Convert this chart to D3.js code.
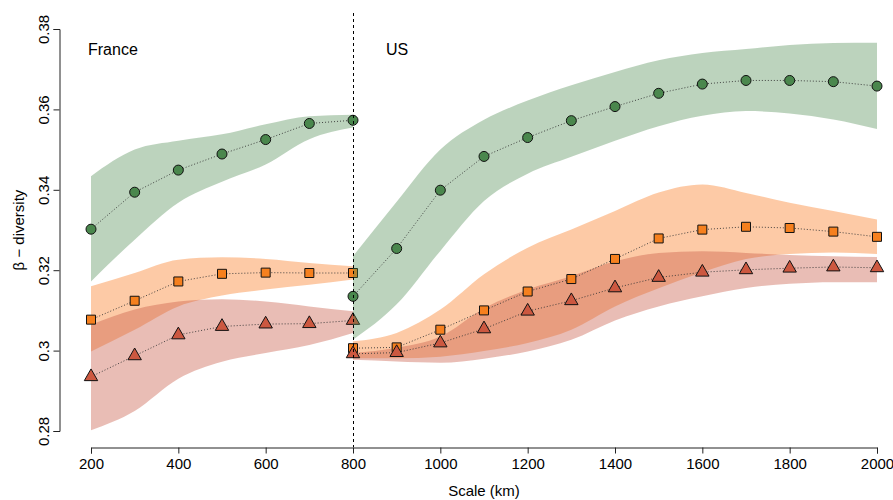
<!DOCTYPE html>
<html>
<head>
<meta charset="utf-8">
<script src="https://cdn.jsdelivr.net/npm/d3@7"></script>
<style>
  body { margin: 0; background: #fff; }
  svg text { font-family: "Liberation Sans", Arial, Helvetica, sans-serif; fill: #000; }
</style>
</head>
<body>
<div id="chart"></div>
<script>
// scales (km)
var frScale = [200, 300, 400, 500, 600, 700, 800];
var usScale = [800, 900, 1000, 1100, 1200, 1300, 1400, 1500, 1600, 1700, 1800, 1900, 2000];

// France: point estimates and band limits
var frGreen  = [0.3302, 0.3394, 0.3449, 0.3489, 0.3525, 0.3565, 0.3573];
var frOrange = [0.3077, 0.3124, 0.3172, 0.3191, 0.3194, 0.3193, 0.3193];
var frRed    = [0.2935, 0.2987, 0.3039, 0.3060, 0.3066, 0.3067, 0.3075];
var frGreenLo  = [0.3172, 0.3276, 0.3368, 0.3420, 0.3463, 0.3526, 0.3555];
var frGreenHi  = [0.3434, 0.3500, 0.3522, 0.3538, 0.3563, 0.3583, 0.3587];
var frOrangeLo = [0.2998, 0.3052, 0.3110, 0.3137, 0.3152, 0.3164, 0.3177];
var frOrangeHi = [0.3160, 0.3193, 0.3226, 0.3232, 0.3228, 0.3218, 0.3210];
var frRedLo    = [0.2802, 0.2850, 0.2930, 0.2972, 0.2994, 0.3014, 0.3044];
var frRedHi    = [0.3064, 0.3102, 0.3122, 0.3128, 0.3122, 0.3110, 0.3098];

// US
var usGreen  = [0.3135, 0.3254, 0.3399, 0.3483, 0.3530, 0.3572, 0.3607, 0.3640, 0.3663, 0.3672, 0.3672, 0.3669, 0.3658];
var usOrange = [0.3006, 0.3008, 0.3052, 0.3100, 0.3147, 0.3178, 0.3228, 0.3279, 0.3301, 0.3308, 0.3305, 0.3296, 0.3283];
var usRed    = [0.2992, 0.2995, 0.3019, 0.3054, 0.3098, 0.3124, 0.3156, 0.3182, 0.3195, 0.3201, 0.3205, 0.3208, 0.3206];
var usGreenLo  = [0.3027, 0.3115, 0.3248, 0.3372, 0.3440, 0.3482, 0.3522, 0.3558, 0.3584, 0.3596, 0.3590, 0.3575, 0.3551];
var usGreenHi  = [0.3235, 0.3370, 0.3500, 0.3574, 0.3622, 0.3660, 0.3693, 0.3722, 0.3740, 0.3750, 0.3760, 0.3765, 0.3766];
var usOrangeLo = [0.2981, 0.2981, 0.2985, 0.2999, 0.3019, 0.3052, 0.3110, 0.3155, 0.3195, 0.3228, 0.3240, 0.3244, 0.3240];
var usOrangeHi = [0.3023, 0.3044, 0.3102, 0.3190, 0.3256, 0.3301, 0.3347, 0.3393, 0.3413, 0.3392, 0.3368, 0.3347, 0.3326];
var usRedLo    = [0.2977, 0.2973, 0.2970, 0.2980, 0.2998, 0.3027, 0.3075, 0.3110, 0.3135, 0.3156, 0.3166, 0.3170, 0.3170];
var usRedHi    = [0.2994, 0.3007, 0.3035, 0.3105, 0.3152, 0.3185, 0.3222, 0.3243, 0.3247, 0.3243, 0.3238, 0.3235, 0.3233];

var xTicks = [200, 400, 600, 800, 1000, 1200, 1400, 1600, 1800, 2000];
var yTicks = [0.28, 0.30, 0.32, 0.34, 0.36, 0.38];
var yTickLabels = ["0.28", "0.3", "0.32", "0.34", "0.36", "0.38"];
var panels = ["France", "US"];

var width = 893,
    height = 500

var svg = d3.select("#chart").append("svg")
    .attr("width", width)
    .attr("height", height)

var x = d3.scaleLinear().domain([200, 2000]).range([91, 877]);
var y = d3.scaleLinear().domain([0.28, 0.38]).range([431, 29]);

var colGreen = "rgb(74,135,77)",
    colOrange = "rgb(246,128,30)",
    colRed = "rgb(204,88,64)"

// shapes centred on 0,0 (R pch 21, 22, 24)
var shapes = {
    circle: "M5,0A5,5 0 1,1 -5,0A5,5 0 1,1 5,0Z",
    square: "M-4.5,-4.5h9v9h-9Z",
    triangle: "M0,-7.8L6.7,3.9L-6.7,3.9Z"
}

function drawPanel(xs, series) {
    var g = svg.append("g");

    series.forEach(function(s) {
        var area = d3.area()
            .x(function(d, i) { return x(xs[i]); })
            .y0(function(d, i) { return y(s.lo[i]); })
            .y1(function(d, i) { return y(s.hi[i]); })
            .curve(d3.curveMonotoneX);
        g.append("path")
            .attr("d", area(xs))
            .attr("fill", s.band)
            .attr("fill-opacity", s.alpha)
    });

    series.forEach(function(s) {
        var line = d3.line()
            .x(function(d, i) { return x(xs[i]); })
            .y(function(d) { return y(d); });
        g.append("path")
            .attr("d", line(s.values))
            .attr("fill", "none")
            .attr("stroke", "#333")
            .attr("stroke-width", 0.9)
            .attr("stroke-dasharray", "1,2")
    });

    series.forEach(function(s) {
        g.selectAll(null)
            .data(s.values)
            .enter().append("path")
            .attr("transform", function(d, i) { return "translate(" + x(xs[i]) + "," + y(d) + ")"; })
            .attr("d", shapes[s.shape])
            .attr("fill", s.fill)
            .attr("stroke", "#111")
            .attr("stroke-width", 1)
    });
}

drawPanel(frScale, [
    { values: frGreen, lo: frGreenLo, hi: frGreenHi, band: colGreen, alpha: 0.37, fill: colGreen, shape: "circle" },
    { values: frOrange, lo: frOrangeLo, hi: frOrangeHi, band: "rgb(251,138,58)", alpha: 0.45, fill: colOrange, shape: "square" },
    { values: frRed, lo: frRedLo, hi: frRedHi, band: "rgb(200,90,70)", alpha: 0.4, fill: colRed, shape: "triangle" }
]);

drawPanel(usScale, [
    { values: usGreen, lo: usGreenLo, hi: usGreenHi, band: colGreen, alpha: 0.37, fill: colGreen, shape: "circle" },
    { values: usOrange, lo: usOrangeLo, hi: usOrangeHi, band: "rgb(251,138,58)", alpha: 0.45, fill: colOrange, shape: "square" },
    { values: usRed, lo: usRedLo, hi: usRedHi, band: "rgb(200,90,70)", alpha: 0.4, fill: colRed, shape: "triangle" }
]);

// France / US divider
svg.append("line")
    .attr("x1", Math.round(x(800)) + 0.5)
    .attr("x2", Math.round(x(800)) + 0.5)
    .attr("y1", 13)
    .attr("y2", 447)
    .attr("stroke", "#000")
    .attr("stroke-width", 1)
    .attr("stroke-dasharray", "3,3")

// axes
var xAxis = svg.append("g")
    .attr("transform", "translate(0,447.5)")
    .call(d3.axisBottom(x).tickValues(xTicks).tickSizeOuter(0).tickSize(6).tickFormat(d3.format("d")));
xAxis.selectAll("text")
    .attr("y", 21.5)
    .attr("dy", 0)
    .style("font-size", "15px")

var yAxis = svg.append("g")
    .attr("transform", "translate(59.5,0)")
    .call(d3.axisLeft(y).tickValues(yTicks).tickSizeOuter(0).tickSize(6)
        .tickFormat(function(d, i) { return yTickLabels[i]; }));
yAxis.selectAll("text")
    .attr("x", 0)
    .attr("y", -11)
    .attr("dy", 0)
    .attr("transform", "rotate(-90)")
    .attr("text-anchor", "middle")
    .style("font-size", "15px")

svg.selectAll(".domain, .tick line").attr("stroke", "#222")

svg.append("text")
    .attr("x", x(1100))
    .attr("y", 496)
    .attr("text-anchor", "middle")
    .style("font-size", "15px")
    .text("Scale (km)")

svg.append("text")
    .attr("transform", "translate(24,230) rotate(-90)")
    .attr("text-anchor", "middle")
    .style("font-size", "15px")
    .text("β − diversity")

svg.selectAll(".panel")
    .data(panels)
    .enter().append("text")
    .attr("class", "panel")
    .attr("x", function(d, i) { return i == 0 ? 88 : 386; })
    .attr("y", 55)
    .style("font-size", "16px")
    .text(function(d) { return d; })
</script>
</body>
</html>
